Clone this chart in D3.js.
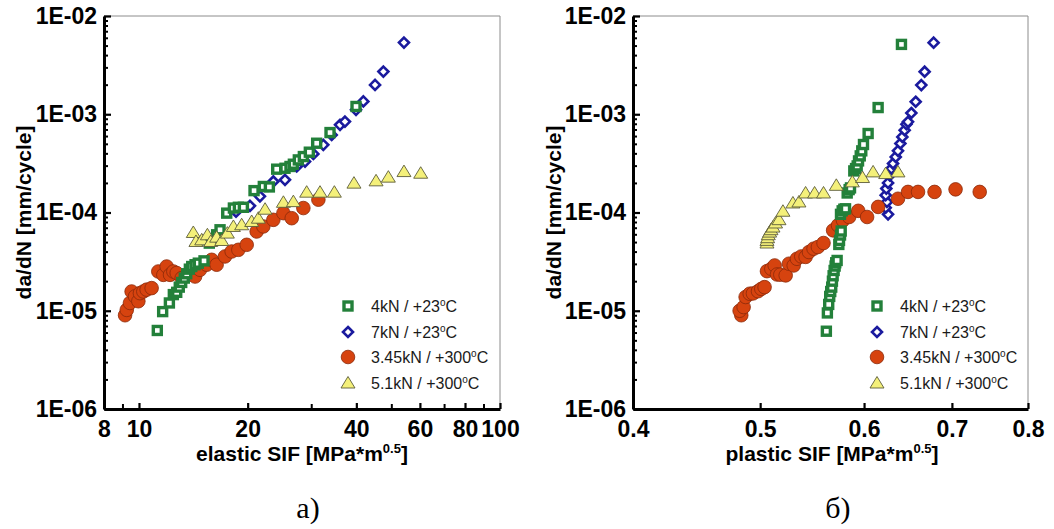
<!DOCTYPE html>
<html><head><meta charset="utf-8">
<script src="https://cdn.jsdelivr.net/npm/d3@7"></script>
<style>body{margin:0;background:#fff} svg{display:block}</style>
</head><body>
<svg id="c" width="1054" height="529"></svg>
<script>
// ---- tick definitions ----
const yTickValues = [1e-6, 1e-5, 1e-4, 1e-3, 1e-2];
const yTickLabels = ["1E-06", "1E-05", "1E-04", "1E-03", "1E-02"];
const elasticTickValues = [8, 10, 20, 40, 60, 80, 100];
const elasticTickLabels = ["8", "10", "20", "40", "60", "80", "100"];
const elasticMinorTicks = [9, 30, 50, 70, 90];
const plasticTickValues = [0.4, 0.5, 0.6, 0.7, 0.8];
const plasticTickLabels = ["0.4", "0.5", "0.6", "0.7", "0.8"];
const seriesNames = ["4kN / +23", "7kN / +23", "3.45kN / +300", "5.1kN / +300"];
const yTitle = "da/dN [mm/cycle]";
const captions = ["a)", "б)"];

// ---- data: [SIF, da/dN] ----
const elastic4kN23 = [[11.24,6.3e-6],[11.63,9.8e-6],[12.14,1.2e-5],[12.45,1.46e-5],[12.72,1.54e-5],[12.93,1.74e-5],[13.13,1.94e-5],[13.35,2.15e-5],[13.56,2.38e-5],[13.79,2.65e-5],[14.0,2.82e-5],[14.3,2.94e-5],[14.6,3.05e-5],[15.14,3.22e-5],[15.66,4.88e-5],[16.0,5.27e-5],[16.41,5.93e-5],[16.77,6.67e-5],[17.5,9.85e-5],[18.26,1.11e-4],[18.85,1.13e-4],[19.46,1.13e-4],[20.83,1.67e-4],[22.1,1.84e-4],[22.97,1.82e-4],[24.07,2.76e-4],[25.38,2.82e-4],[26.2,2.94e-4],[26.77,3.1e-4],[27.63,3.43e-4],[28.53,3.71e-4],[29.64,4.11e-4],[31.06,5.07e-4],[33.82,6.51e-4],[39.92,1.2e-3]];
const elastic7kN23 = [[18.57,1.02e-4],[20.3,1.17e-4],[21.63,1.46e-4],[23.56,2.07e-4],[25.38,2.15e-4],[27.35,2.94e-4],[28.84,3.3e-4],[30.41,3.95e-4],[32.4,4.88e-4],[34.18,6.16e-4],[36.05,7.8e-4],[37.2,8.42e-4],[39.92,1.11e-3],[41.83,1.35e-3],[45.07,1.99e-3],[47.53,2.72e-3],[54.2,5.36e-3]];
const elastic345kN300 = [[9.15,9.0e-6],[9.25,1.02e-5],[9.44,1.2e-5],[9.54,1.57e-5],[9.75,1.4e-5],[9.96,1.25e-5],[10.06,1.51e-5],[10.28,1.57e-5],[10.5,1.64e-5],[10.84,1.7e-5],[11.31,2.51e-5],[11.68,2.32e-5],[11.93,2.82e-5],[12.19,2.32e-5],[12.45,2.51e-5],[12.72,2.42e-5],[13.13,2.15e-5],[14.3,2.23e-5],[14.76,2.61e-5],[15.4,2.94e-5],[15.9,3.3e-5],[16.41,2.94e-5],[17.31,3.57e-5],[18.06,4.01e-5],[18.85,4.17e-5],[19.88,4.69e-5],[21.18,6.41e-5],[22.1,7.21e-5],[23.56,8.42e-5],[25.12,9.85e-5],[26.49,8.75e-5],[28.53,1.11e-4],[31.4,1.35e-4]];
const elastic51kN300 = [[14.14,6.26e-5],[14.38,5.07e-5],[14.92,5.27e-5],[15.47,5.93e-5],[15.8,5.07e-5],[16.41,5.61e-5],[16.95,5.19e-5],[17.57,6.17e-5],[18.26,7.21e-5],[19.25,7.5e-5],[20.52,8.1e-5],[21.41,8.75e-5],[22.35,1.08e-4],[25.12,1.27e-4],[26.77,1.29e-4],[29.14,1.61e-4],[31.73,1.61e-4],[34.77,1.61e-4],[39.4,1.99e-4],[45.36,2.1e-4],[49.06,2.29e-4],[54.2,2.61e-4],[60.3,2.51e-4]];

const plastic4kN23 = [[0.5616,6.19e-6],[0.5626,9.5e-6],[0.5639,1.16e-5],[0.5649,1.4e-5],[0.5659,1.57e-5],[0.5669,1.74e-5],[0.5676,2.0e-5],[0.5683,2.27e-5],[0.5693,2.57e-5],[0.5703,2.85e-5],[0.5709,3.08e-5],[0.5723,3.25e-5],[0.574,4.73e-5],[0.5747,5.2e-5],[0.5757,5.9e-5],[0.5764,6.48e-5],[0.5757,9.58e-5],[0.5774,1.04e-4],[0.5791,1.08e-4],[0.5808,1.09e-4],[0.5825,1.58e-4],[0.5845,1.71e-4],[0.5859,1.78e-4],[0.5893,2.65e-4],[0.5911,2.8e-4],[0.5928,2.98e-4],[0.5942,3.35e-4],[0.596,3.77e-4],[0.5976,4.24e-4],[0.5994,4.92e-4],[0.6043,6.37e-4],[0.615,1.17e-3],[0.6407,5.14e-3]];
const plastic7kN23 = [[0.6258,9.58e-5],[0.6232,1.12e-4],[0.6246,1.28e-4],[0.6232,1.5e-4],[0.6239,1.75e-4],[0.6258,2.0e-4],[0.6277,2.39e-4],[0.6295,2.8e-4],[0.6313,3.15e-4],[0.6343,3.68e-4],[0.6368,4.24e-4],[0.6395,5.04e-4],[0.6417,5.88e-4],[0.6443,6.89e-4],[0.6463,7.93e-4],[0.6481,8.37e-4],[0.6519,1.03e-3],[0.6569,1.34e-3],[0.6634,1.98e-3],[0.6673,2.71e-3],[0.6779,5.35e-3]];
const plastic345kN300 = [[0.4837,9.0e-6],[0.4823,1.0e-5],[0.4857,1.09e-5],[0.4874,1.38e-5],[0.4909,1.49e-5],[0.4937,1.5e-5],[0.4981,1.58e-5],[0.501,1.67e-5],[0.5039,1.74e-5],[0.506,2.53e-5],[0.5099,2.67e-5],[0.5129,2.89e-5],[0.515,2.34e-5],[0.518,2.33e-5],[0.5229,2.29e-5],[0.5259,3.01e-5],[0.5303,2.89e-5],[0.5333,3.38e-5],[0.5374,3.57e-5],[0.5415,3.53e-5],[0.5447,3.96e-5],[0.5491,4.28e-5],[0.5533,4.45e-5],[0.5588,4.89e-5],[0.5683,6.58e-5],[0.5732,7.4e-5],[0.5782,8.32e-5],[0.5845,9.0e-5],[0.5939,1.04e-4],[0.6032,9.0e-5],[0.615,1.14e-4],[0.6368,1.38e-4],[0.6481,1.62e-4],[0.6596,1.62e-4],[0.679,1.62e-4],[0.7045,1.72e-4],[0.735,1.62e-4]];
const plastic51kN300 = [[0.506,4.89e-5],[0.506,5.2e-5],[0.5066,5.54e-5],[0.5072,5.94e-5],[0.5084,6.32e-5],[0.5096,6.68e-5],[0.5114,7.11e-5],[0.5137,7.82e-5],[0.5168,8.45e-5],[0.5204,1.03e-4],[0.5296,1.25e-4],[0.5352,1.28e-4],[0.5415,1.58e-4],[0.5501,1.58e-4],[0.5588,1.58e-4],[0.5715,1.89e-4],[0.5878,2.05e-4],[0.5984,2.27e-4],[0.6096,2.59e-4],[0.6232,2.49e-4],[0.6368,2.59e-4]];

const svg = d3.select("#c");
const FONT = "'Liberation Sans', Arial, sans-serif";

const marker = {
  square: (g, pts) => g.selectAll(null).data(pts).join("rect")
      .attr("x", d => d[0] - 4).attr("y", d => d[1] - 4)
      .attr("width", 8).attr("height", 8)
      .attr("fill", "#ffffff").attr("stroke", "#23803a").attr("stroke-width", 3.4),
  diamond: (g, pts) => g.selectAll(null).data(pts).join("path")
      .attr("d", d => `M${d[0]},${d[1]-5}L${d[0]+5},${d[1]}L${d[0]},${d[1]+5}L${d[0]-5},${d[1]}Z`)
      .attr("fill", "#ffffff").attr("stroke", "#1a1a9e").attr("stroke-width", 2.6),
  circle: (g, pts) => g.selectAll(null).data(pts).join("circle")
      .attr("cx", d => d[0]).attr("cy", d => d[1]).attr("r", 6.8)
      .attr("fill", "#d6430f").attr("stroke", "#8a2a0a").attr("stroke-width", 0.8),
  triangle: (g, pts) => g.selectAll(null).data(pts).join("path")
      .attr("d", d => `M${d[0]},${d[1]-6.5}L${d[0]+7},${d[1]+5}L${d[0]-7},${d[1]+5}Z`)
      .attr("fill", "#f4f07a").attr("stroke", "#5c5c3a").attr("stroke-width", 0.9)
};
const kinds = ["square", "diamond", "circle", "triangle"];
const drawOrder = [1, 2, 0, 3];

function panel(opt) {
  const g = svg.append("g");
  const x = opt.x, y = opt.y;
  const [x0, x1] = x.range();
  const [yb, yt] = y.range();

  g.append("path").attr("d", `M${x0},${yt}H${x1}V${yb}`)
    .attr("fill", "none").attr("stroke", "#8c8c8c").attr("stroke-width", 1);

  drawOrder.forEach(i => {
    const pts = opt.series[i].map(d => [x(d[0]), y(d[1])]);
    marker[kinds[i]](g.append("g"), pts);
  });

  const yMinor = [];
  for (let e = -6; e < -2; e++) for (let m = 2; m <= 9; m++) yMinor.push(m * Math.pow(10, e));
  g.append("g").attr("transform", `translate(${x0},0)`)
    .call(d3.axisLeft(y).tickValues(yMinor).tickSize(-4).tickSizeOuter(0).tickFormat(""))
    .call(a => a.select(".domain").remove())
    .call(a => a.selectAll("line").attr("stroke", "#000").attr("stroke-width", 2));
  const ya = g.append("g").attr("transform", `translate(${x0},0)`)
    .call(d3.axisLeft(y).tickValues(yTickValues).tickSize(-7).tickSizeOuter(0).tickPadding(7)
      .tickFormat((d, i) => yTickLabels[i]));
  ya.select(".domain").attr("stroke", "#000").attr("stroke-width", 3);
  ya.selectAll("line").attr("stroke", "#000").attr("stroke-width", 2.2);
  ya.selectAll("text").attr("font-family", FONT).attr("font-weight", "bold")
    .attr("font-size", 23).attr("fill", "#000");

  if (opt.xMinor) {
    g.append("g").attr("transform", `translate(0,${yb})`)
      .call(d3.axisBottom(x).tickValues(opt.xMinor).tickSize(-5).tickSizeOuter(0).tickFormat(""))
      .call(a => a.select(".domain").remove())
      .call(a => a.selectAll("line").attr("stroke", "#000").attr("stroke-width", 2));
  }
  const xa = g.append("g").attr("transform", `translate(0,${yb})`)
    .call(d3.axisBottom(x).tickValues(opt.xTicks).tickSize(-6).tickSizeOuter(0).tickPadding(12)
      .tickFormat((d, i) => opt.xLabels[i]));
  xa.select(".domain").attr("stroke", "#000").attr("stroke-width", 3);
  xa.selectAll("line").attr("stroke", "#000").attr("stroke-width", 2.2);
  xa.selectAll("text").attr("font-family", FONT).attr("font-weight", "bold")
    .attr("font-size", 23).attr("fill", "#000");

  g.append("text").attr("transform", `translate(${opt.yTitleX},${(yb + yt) / 2}) rotate(-90)`)
    .attr("text-anchor", "middle").attr("dy", "0.35em")
    .attr("font-family", FONT).attr("font-weight", "bold").attr("font-size", 21)
    .text(yTitle);

  const xt = g.append("text").attr("x", opt.xTitleX).attr("y", 461)
    .attr("text-anchor", "middle")
    .attr("font-family", FONT).attr("font-weight", "bold").attr("font-size", 21);
  xt.append("tspan").text(opt.xTitle + " [MPa*m");
  xt.append("tspan").attr("font-size", 13).attr("dy", -8).text("0.5");
  xt.append("tspan").attr("dy", 8).text("]");

  const lg = g.append("g");
  opt.legendY.forEach((ly, i) => {
    marker[kinds[i]](lg.append("g"), [[opt.legendX, ly]]);
    const t = lg.append("text").attr("x", opt.legendX + 23).attr("y", ly + 6)
      .attr("font-family", FONT).attr("font-size", 16).attr("fill", "#1a1a1a");
    t.append("tspan").text(seriesNames[i]);
    t.append("tspan").attr("font-size", 10).attr("dy", -6).text("o");
    t.append("tspan").attr("dy", 6).text("C");
  });

  svg.append("text").attr("x", opt.capX).attr("y", 518).attr("text-anchor", "middle")
    .attr("font-family", "'Liberation Serif', 'Times New Roman', serif").attr("font-size", 30)
    .text(opt.caption);
}

const yScaleL = d3.scaleLog().domain([1e-6, 1e-2]).range([409, 16]);
const yScaleR = d3.scaleLog().domain([1e-6, 1e-2]).range([409, 16]);

panel({
  x: d3.scaleLog().domain([8, 100]).range([104, 500]),
  y: yScaleL,
  xTicks: elasticTickValues, xLabels: elasticTickLabels, xMinor: elasticMinorTicks,
  series: [elastic4kN23, elastic7kN23, elastic345kN300, elastic51kN300],
  yTitleX: 24, xTitleX: 302, xTitle: "elastic SIF",
  legendX: 348, legendY: [306, 332, 357, 383],
  capX: 308, caption: captions[0]
});
panel({
  x: d3.scaleLog().domain([0.4, 0.8]).range([633, 1028]),
  y: yScaleR,
  xTicks: plasticTickValues, xLabels: plasticTickLabels, xMinor: null,
  series: [plastic4kN23, plastic7kN23, plastic345kN300, plastic51kN300],
  yTitleX: 554, xTitleX: 832, xTitle: "plastic SIF",
  legendX: 877, legendY: [306, 332, 357, 383],
  capX: 838, caption: captions[1]
});
</script>
</body></html>
